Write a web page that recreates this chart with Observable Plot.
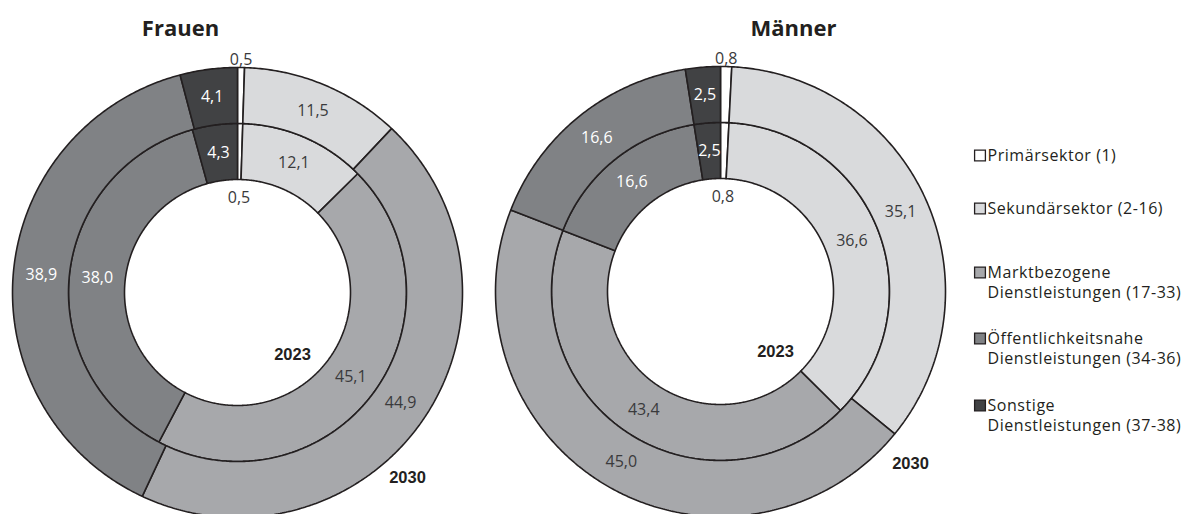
<!DOCTYPE html>
<html>
<head>
<meta charset="utf-8">
<script src="https://cdn.jsdelivr.net/npm/d3@7"></script>
<script src="https://cdn.jsdelivr.net/npm/@observablehq/plot@0.6"></script>
<style>
  html, body { margin: 0; padding: 0; background: #ffffff; }
  #chart { width: 1188px; height: 514px; }
  #chart g[aria-description="legend-text"] text { letter-spacing: 0.55px; }
</style>
</head>
<body>
<div id="chart"></div>
<script>
// ---------- data ----------
const categories = ["Primärsektor (1)", "Sekundärsektor (2-16)", "Marktbezogene Dienstleistungen (17-33)", "Öffentlichkeitsnahe Dienstleistungen (34-36)", "Sonstige Dienstleistungen (37-38)"];
const legendLine1 = ["Primärsektor (1)", "Sekundärsektor (2-16)", "Marktbezogene", "Öffentlichkeitsnahe", "Sonstige"];
const legendLine2 = ["", "", "Dienstleistungen (17-33)", "Dienstleistungen (34-36)", "Dienstleistungen (37-38)"];
const panels = ["Frauen", "Männer"];
const years = ["2023", "2030"];           // inner ring, outer ring
const frauen2023 = [0.5, 12.1, 45.1, 38.0, 4.3];
const frauen2030 = [0.5, 11.5, 44.9, 38.9, 4.1];
const maenner2023 = [0.8, 36.6, 43.4, 16.6, 2.5];
const maenner2030 = [0.8, 35.1, 45.0, 16.6, 2.5];

// ---------- styling / layout ----------
const colors = ["#ffffff", "#d9dadc", "#a7a8ab", "#808285", "#414244"];
const labelColors = ["#3a3a3c", "#3a3a3c", "#3a3a3c", "#ffffff", "#ffffff"];
const ink = "#231f20";
const layout = [
  {cx: 237, cy: 292, titleX: 180, titleY: 28, y23: [55, 62], y30: [170, 185]},
  {cx: 720, cy: 291, titleX: 793, titleY: 28, y23: [55, 60], y30: [190, 172]}
];
const R = [113, 169, 225]; // inner hole, ring border, outer edge
const seriesByPanel = [[frauen2023, frauen2030], [maenner2023, maenner2030]];
const fmt = v => v.toFixed(1).replace(".", ",");

// ---------- build geometry from values ----------
const polys = [];
const labels = [];
const yearLabels = [];
const titles = [];
panels.forEach((panel, p) => {
  const L = layout[p];
  titles.push({text: panel, x: L.titleX, y: L.titleY});
  yearLabels.push({text: years[0], x: L.cx + L.y23[0], y: L.cy + L.y23[1]});
  yearLabels.push({text: years[1], x: L.cx + L.y30[0], y: L.cy + L.y30[1]});
  seriesByPanel[p].forEach((vals, ring) => {
    const total = d3.sum(vals);
    const rIn = R[ring], rOut = R[ring + 1];
    let acc = 0;
    vals.forEach((v, i) => {
      const a0 = acc / total * 2 * Math.PI;
      acc += v;
      const a1 = acc / total * 2 * Math.PI;
      const key = `${panel}-${ring}-${i}`;
      const n = Math.max(2, Math.ceil((a1 - a0) / (Math.PI / 360)));
      const pts = [];
      for (let k = 0; k <= n; k++) {
        const a = a0 + (a1 - a0) * k / n;
        pts.push([L.cx + rOut * Math.sin(a), L.cy - rOut * Math.cos(a)]);
      }
      for (let k = n; k >= 0; k--) {
        const a = a0 + (a1 - a0) * k / n;
        pts.push([L.cx + rIn * Math.sin(a), L.cy - rIn * Math.cos(a)]);
      }
      pts.forEach(([x, y]) => polys.push({key, x, y, cat: i}));
      // value label
      const am = (a0 + a1) / 2;
      let rl = (rIn + rOut) / 2, anchor = "middle";
      if (i === 0) { // tiny primary sector: label outside the ring
        if (ring === 1) { rl = rOut + 3; anchor = "bottom"; }
        else { rl = rIn - 18; anchor = "middle"; }
      }
      labels.push({
        text: fmt(v), x: L.cx + rl * Math.sin(am), y: L.cy - rl * Math.cos(am),
        color: i === 0 ? "#3a3a3c" : labelColors[i], anchor
      });
    });
  });
});

const legendY = [155, 208, 272, 338, 405];
const legend = categories.map((c, i) => ({cat: i, l1: legendLine1[i], l2: legendLine2[i], y: legendY[i]}));

const chart = Plot.plot({
  width: 1188,
  height: 514,
  margin: 0,
  x: {domain: [0, 1188], range: [0, 1188], axis: null},
  y: {domain: [0, 514], range: [0, 514], axis: null},
  style: {fontFamily: "'Open Sans', sans-serif", background: "#ffffff", overflow: "visible"},
  marks: [
    Plot.line(polys, {
      x: "x", y: "y", z: "key",
      fill: d => colors[d.cat],
      stroke: ink, strokeWidth: 1.6, curve: "linear-closed", strokeLinejoin: "miter"
    }),
    Plot.text(labels.filter(d => d.anchor === "middle"), {
      x: "x", y: "y", text: "text", fill: d => d.color, fontSize: 16, lineAnchor: "middle"
    }),
    Plot.text(labels.filter(d => d.anchor === "bottom"), {
      x: "x", y: "y", text: "text", fill: d => d.color, fontSize: 16, lineAnchor: "bottom"
    }),
    Plot.text(yearLabels, {
      x: "x", y: "y", text: "text", fill: ink, fontSize: 16.5, fontWeight: "bold",
      fontFamily: "'Liberation Sans', Arial, sans-serif"
    }),
    Plot.text(titles, {
      x: "x", y: "y", text: "text", fill: ink, fontSize: 22, fontWeight: "bold"
    }),
    Plot.dot(legend, {
      x: () => 979.5, y: "y", symbol: "square", r: 6.1,
      fill: d => colors[d.cat], stroke: ink, strokeWidth: 1.3
    }),
    Plot.text(legend, {
      x: () => 987, y: "y", text: "l1", textAnchor: "start", fill: ink, fontSize: 16,
      ariaDescription: "legend-text"
    }),
    Plot.text(legend.filter(d => d.l2), {
      x: () => 987, y: d => d.y + 20, text: "l2", textAnchor: "start", fill: ink, fontSize: 16,
      ariaDescription: "legend-text"
    })
  ]
});
document.getElementById("chart").appendChild(chart);
</script>
</body>
</html>
